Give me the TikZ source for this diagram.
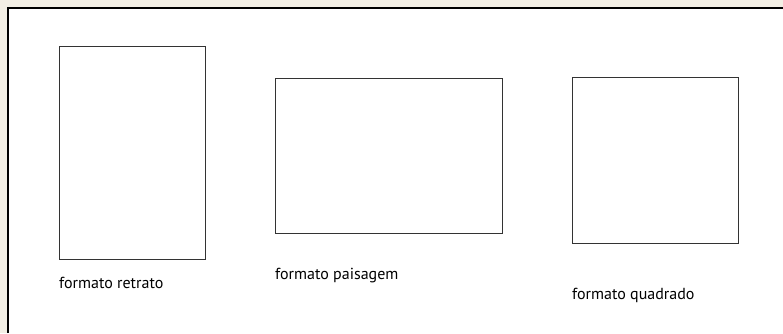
\documentclass[tikz,border=0pt]{standalone}
\usepackage{fontspec}
\setmainfont{PT Sans}
\definecolor{beige}{HTML}{F3EFE5}
\begin{document}
\begin{tikzpicture}[x=1pt,y=-1pt,
  frame/.style={draw=black!80,line width=1pt},
  lbl/.style={anchor=west,inner sep=0pt,font=\fontsize{16}{18}\selectfont}]
\useasboundingbox (0,0) rectangle (783,333);
\fill[beige] (0,0) rectangle (783,333);
\fill[white] (8,8) rectangle (783,333);
\draw[line width=2.2pt,black] (8,333) -- (8,8) -- (783,8);
\node[frame,rectangle,minimum width=146pt,minimum height=213pt,inner sep=0pt] (retrato) at (132,152.5) {};
\node[frame,rectangle,minimum width=227pt,minimum height=155pt,inner sep=0pt] (paisagem) at (388.5,155.5) {};
\node[frame,rectangle,minimum width=166pt,minimum height=166pt,inner sep=0pt] (quadrado) at (655.5,160) {};
\node[lbl] (t1) at (59,283) {formato retrato};
\node[lbl] (t2) at (275,276) {formato paisagem};
\node[lbl] (t3) at (572,295) {formato quadrado};
\end{tikzpicture}
\end{document}
